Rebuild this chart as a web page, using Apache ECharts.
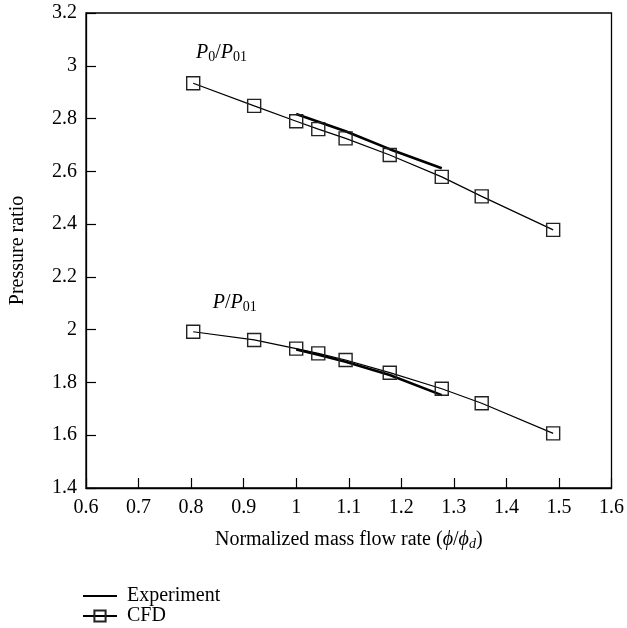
<!DOCTYPE html>
<html><head><meta charset="utf-8">
<script src="https://cdn.jsdelivr.net/npm/echarts@6/dist/echarts.min.js"></script>
<style>html,body{margin:0;padding:0;background:#fff}#c{width:627px;height:628px}</style>
</head><body><div id="c"></div>
<script>
// Data
const cfdX = [0.804, 0.92, 1.0, 1.042, 1.094, 1.178, 1.277, 1.353, 1.489];
const cfdTotal = [2.934, 2.848, 2.790, 2.760, 2.725, 2.662, 2.579, 2.505, 2.378];
const cfdStatic = [1.992, 1.961, 1.928, 1.910, 1.885, 1.837, 1.776, 1.721, 1.607];
const expX = [1.0, 1.042, 1.094, 1.178, 1.277];
const expTotal = [2.817, 2.788, 2.752, 2.684, 2.612];
const expStatic = [1.925, 1.905, 1.878, 1.828, 1.752];
const xTicks = [0.6, 0.7, 0.8, 0.9, 1.0, 1.1, 1.2, 1.3, 1.4, 1.5, 1.6];
const yTicks = [1.4, 1.6, 1.8, 2.0, 2.2, 2.4, 2.6, 2.8, 3.0, 3.2];
const labelTotalPos = [0.858, 3.048];
const labelStaticPos = [0.883, 2.101];

const zip = (xs, ys) => xs.map((x, i) => [x, ys[i]]);
const FONT = '"Liberation Serif", "DejaVu Serif", serif';
const fmt = v => String(+(+v).toFixed(1));

const chart = echarts.init(document.getElementById('c'), null, {renderer: 'canvas'});
const cfdStyle = {
  type: 'line', name: 'CFD', symbol: 'rect', symbolSize: 13,
  lineStyle: {color: '#000', width: 1.2},
  itemStyle: {color: 'rgba(255,255,255,0)', borderColor: '#222', borderWidth: 1.4},
  emphasis: {disabled: true}, animation: false, z: 3
};
const expStyle = {
  type: 'line', name: 'Experiment', symbol: 'circle', showSymbol: false,
  lineStyle: {color: '#000', width: 2.6}, itemStyle: {color: 'rgba(0,0,0,0)', borderWidth: 0},
  emphasis: {disabled: true}, animation: false, z: 2
};
const rich = {
  i: {fontFamily: FONT, fontStyle: 'italic', fontSize: 20, color: '#000'},
  r: {fontFamily: FONT, fontSize: 20, color: '#000'},
  s: {fontFamily: FONT, fontSize: 14, color: '#000', padding: [9, 0, 0, 0]}
};
const legendBase = {
  orient: 'vertical', left: 82, padding: 0,
  itemWidth: 34, itemHeight: 14, itemGap: 0, selectedMode: false,
  textStyle: {fontFamily: FONT, fontSize: 20, lineHeight: 20, color: '#000', padding: [0, 0, 0, 5]}
};
chart.setOption({
  animation: false,
  grid: {left: 82, right: 15, top: 13, bottom: 140, show: true, borderColor: '#000', borderWidth: 1.3, backgroundColor: 'transparent'},
  xAxis: {
    type: 'value', min: xTicks[0], max: xTicks[xTicks.length - 1], interval: 0.1,
    name: '{r|Normalized mass flow rate (}{i|ϕ}{r|/}{i|ϕ}{sd|d}{r|)}',
    nameLocation: 'middle', nameGap: 40,
    nameTextStyle: {rich: Object.assign({}, rich, {sd: {fontFamily: FONT, fontStyle: 'italic', fontSize: 14, color: '#000', padding: [9, 0, 0, 0]}})},
    axisLine: {lineStyle: {color: '#000', width: 1.3}},
    axisTick: {inside: true, length: 10, lineStyle: {color: '#000', width: 1.2}},
    axisLabel: {fontFamily: FONT, fontSize: 20, color: '#000', margin: 10, formatter: fmt},
    splitLine: {show: false}
  },
  yAxis: {
    type: 'value', min: yTicks[0], max: yTicks[yTicks.length - 1], interval: 0.2,
    name: 'Pressure ratio', nameLocation: 'middle', nameGap: 58,
    nameTextStyle: {fontFamily: FONT, fontSize: 20, color: '#000'},
    axisLine: {lineStyle: {color: '#000', width: 1.3}},
    axisTick: {inside: true, length: 10, lineStyle: {color: '#000', width: 1.2}},
    axisLabel: {fontFamily: FONT, fontSize: 20, color: '#000', margin: 9, formatter: fmt},
    splitLine: {show: false}
  },
  legend: [
    Object.assign({}, legendBase, {data: ['Experiment'], top: 586}),
    Object.assign({}, legendBase, {data: ['CFD'], top: 606})
  ],
  series: [
    Object.assign({}, expStyle, {data: zip(expX, expTotal)}),
    Object.assign({}, expStyle, {data: zip(expX, expStatic)}),
    Object.assign({}, cfdStyle, {data: zip(cfdX, cfdTotal)}),
    Object.assign({}, cfdStyle, {data: zip(cfdX, cfdStatic)})
  ]
});
const p1 = chart.convertToPixel({gridIndex: 0}, labelTotalPos);
const p2 = chart.convertToPixel({gridIndex: 0}, labelStaticPos);
chart.setOption({
  graphic: [
    {type: 'text', x: p1[0], y: p1[1], style: {text: '{i|P}{s|0}{r|/}{i|P}{s|01}', rich: rich, align: 'center', verticalAlign: 'middle'}},
    {type: 'text', x: p2[0], y: p2[1], style: {text: '{i|P}{r|/}{i|P}{s|01}', rich: rich, align: 'center', verticalAlign: 'middle'}}
  ]
});
</script></body></html>
